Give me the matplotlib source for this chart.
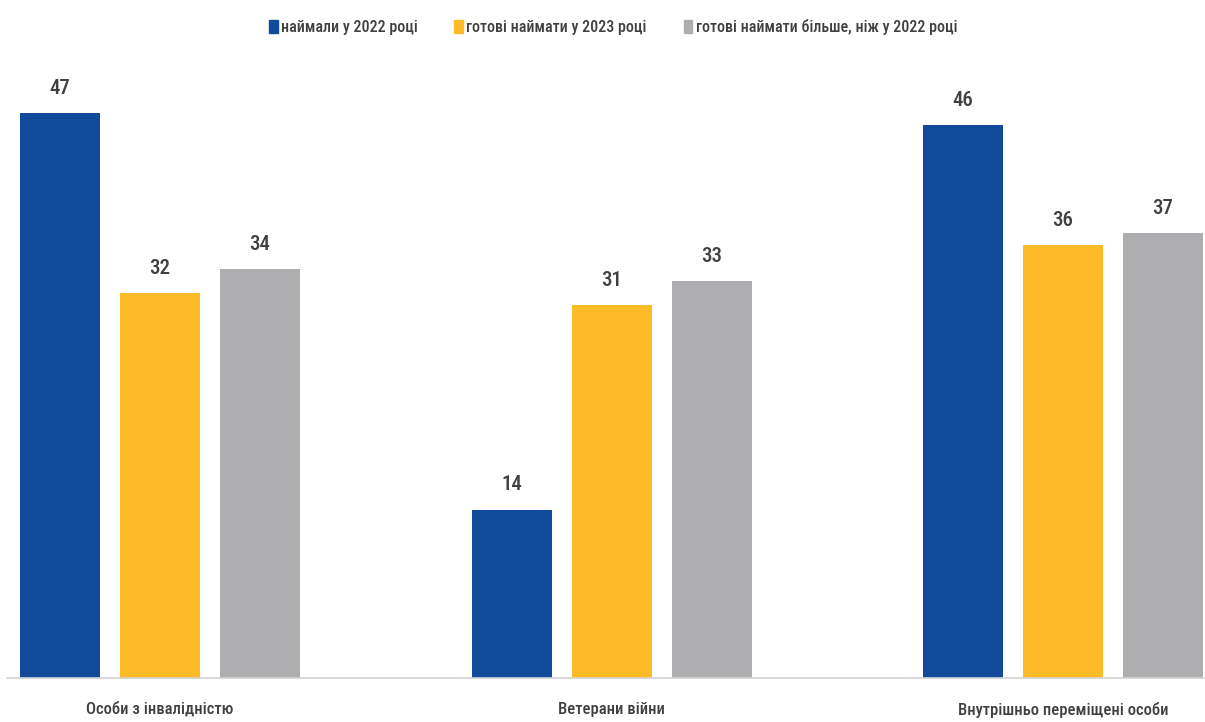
import numpy as np
import matplotlib
matplotlib.use('Agg')
import matplotlib.pyplot as plt
from matplotlib.patches import Patch

plt.rcParams['font.family'] = ['Roboto Condensed', 'DejaVu Sans']

categories = ['Особи з інвалідністю', 'Ветерани війни', 'Внутрішньо переміщені особи']
series_names = ['наймали у 2022 році', 'готові наймати у 2023 році', 'готові наймати більше, ніж у 2022 році']
hired_2022 = [47, 14, 46]
ready_2023 = [32, 31, 36]
ready_more = [34, 33, 37]
colors = ['#124a9b', '#fdbb27', '#aeaeb1']
text_color = '#404040'

fig = plt.figure(figsize=(12.05, 7.22), dpi=100)
ax = fig.add_axes([7 / 1205, 44 / 722, 1198 / 1205, 618 / 722])

x = np.arange(len(categories))
step = 100 / 451.5
width = 80 / 451.5
for i, (vals, col) in enumerate(zip([hired_2022, ready_2023, ready_more], colors)):
    bars = ax.bar(x + (i - 1) * step, vals, width, color=col, zorder=2)
    for b, v in zip(bars, vals):
        ax.annotate(str(v), (b.get_x() + b.get_width() / 2, v), xytext=(0, 14),
                    textcoords='offset points', ha='center', va='baseline',
                    fontsize=15, fontweight='medium', color=text_color)

ax.set_xlim(-0.339, 2.3145)
ax.set_ylim(0, 618 / 12.02)
ax.set_xticks(x)
ax.set_xticklabels(categories, fontsize=12, fontweight='medium', color=text_color)
ax.tick_params(axis='x', length=0, pad=17)
ax.set_yticks([])
for s in ['left', 'right', 'top']:
    ax.spines[s].set_visible(False)
ax.spines['bottom'].set_color('#d3d3d3')
ax.spines['bottom'].set_linewidth(1.2)

handles = [Patch(color=c) for c in colors]
fig.legend(handles, series_names, loc='center', bbox_to_anchor=(613 / 1205, 1 - 27 / 722),
           ncol=3, frameon=False, handlelength=0.55, handleheight=0.9, handletextpad=0.2,
           columnspacing=2.3, prop={'size': 11.5, 'weight': 'medium'}, labelcolor=text_color)

fig.savefig('out.png', dpi=100, facecolor='white')
